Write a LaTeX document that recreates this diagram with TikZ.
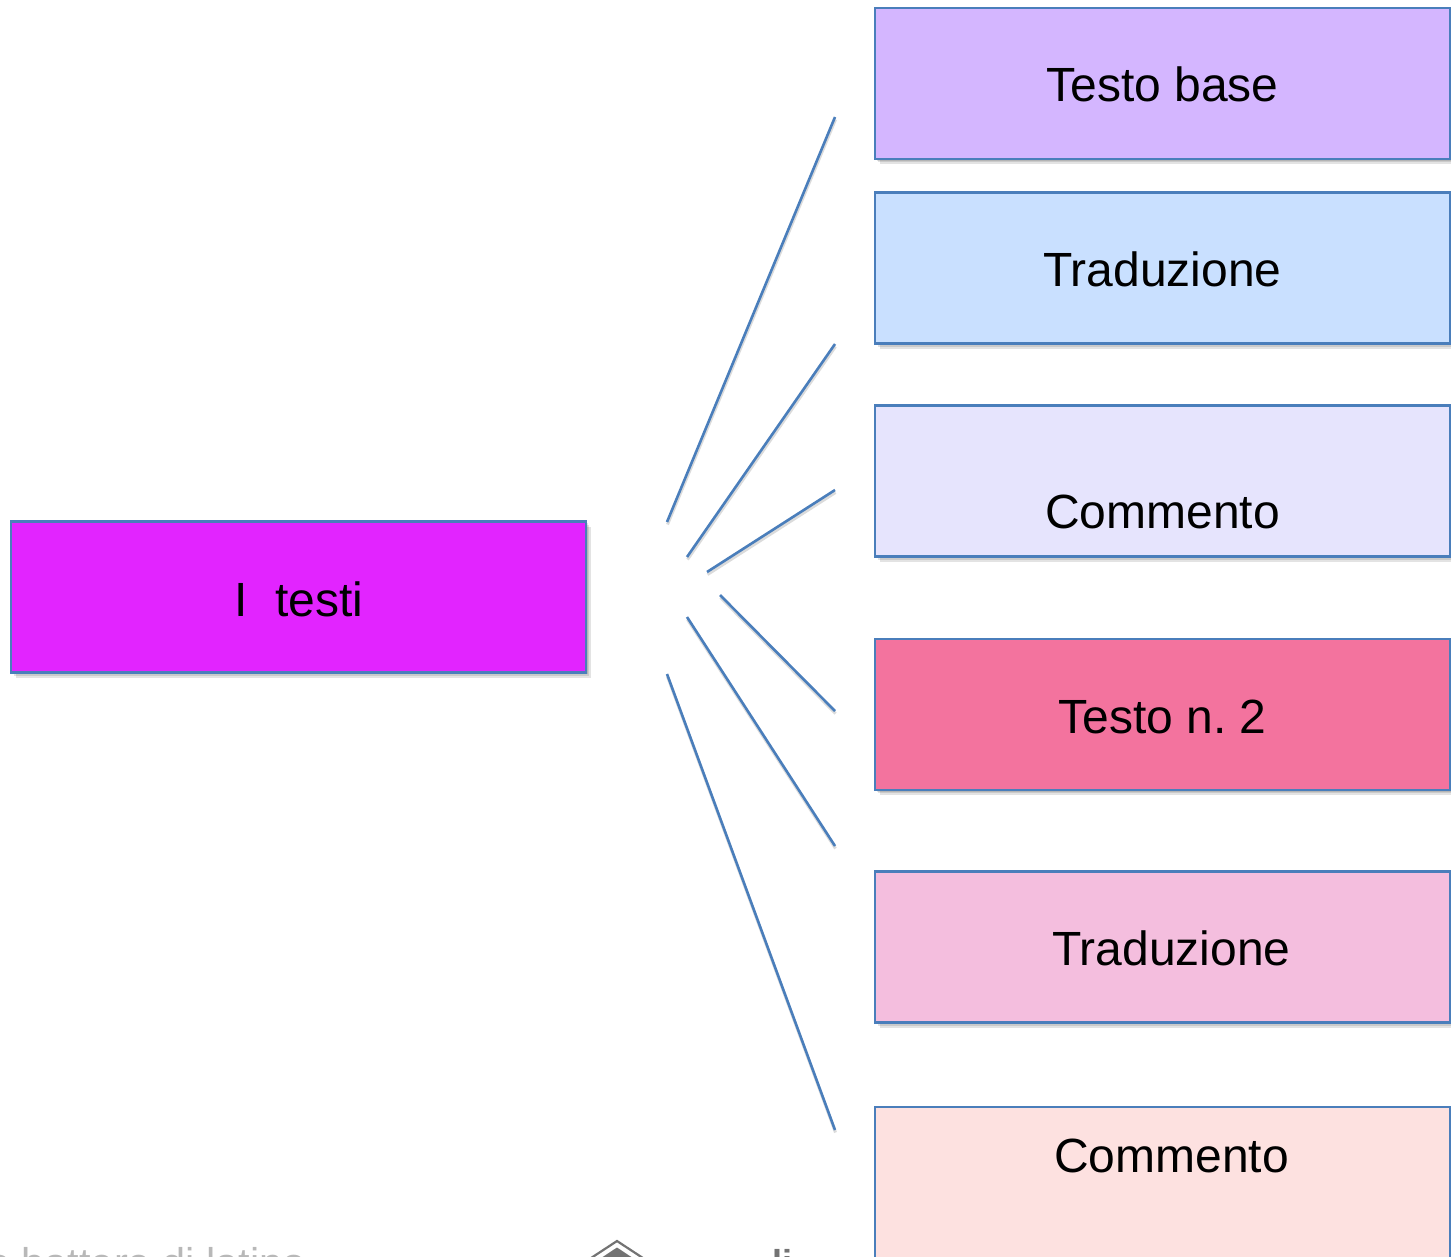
\documentclass[tikz,border=0pt]{standalone}
\usepackage{fontspec}
\setmainfont{Liberation Sans}
\usetikzlibrary{shadows}
\frenchspacing
\begin{document}
\begin{tikzpicture}[x=1pt,y=-1pt]
  \tikzset{
    softshadow/.style={
      drop shadow={shadow xshift=#1, shadow yshift=-#1, fill=black, opacity=0.11}
    },
    textbox/.style={
      draw=boxline,
      line width=2.4pt,
      minimum height=151pt,
      minimum width=575pt,
      inner sep=0pt,
      softshadow=1.5pt,
      softshadow=3pt,
      softshadow=5pt
    },
    boxtext/.style={
      font=\fontsize{48}{48}\selectfont,
      text=black,
      inner sep=0pt
    },
    ray/.style={
      draw=boxline,
      line width=2.6pt,
      preaction={draw=black!14, line width=3pt, transform canvas={xshift=0.5pt, yshift=-2.5pt}}
    },
    footer/.style={
      font=\fontsize{41.5}{41.5}\selectfont,
      inner sep=0pt,
      anchor=base west
    }
  }
  \definecolor{boxline}{HTML}{4A7EBB}
  \useasboundingbox (0,0) rectangle (1451,1256);

  \node[textbox, fill={rgb,255:red,226;green,36;blue,255}] (root) at (298.5,597) {};
  \node[textbox, fill={rgb,255:red,212;green,182;blue,255}] (base) at (1162.5,83.5) {};
  \node[textbox, fill={rgb,255:red,201;green,224;blue,255}] (trad) at (1162.5,268) {};
  \node[textbox, fill={rgb,255:red,230;green,228;blue,253}] (comm) at (1162.5,481) {};
  \node[textbox, fill={rgb,255:red,243;green,115;blue,158}] (second) at (1162.5,714.5) {};
  \node[textbox, fill={rgb,255:red,244;green,190;blue,222}] (tradtwo) at (1162.5,947) {};
  \node[textbox, minimum height=180pt, fill={rgb,255:red,253;green,225;blue,224}] (commtwo) at (1162.5,1197) {};

  \node[boxtext] (lroot) at (299,599) {I\hspace{0.3em} testi};
  \node[boxtext] (lbase) at (1162.5,84.5) {Testo base};
  \node[boxtext] (ltrad) at (1162.5,269) {Traduzione};
  \node[boxtext] (lcomm) at (1162.5,512) {Commento};
  \node[boxtext] (lsecond) at (1162.5,717) {Testo n. 2};
  \node[boxtext] (ltradtwo) at (1171.5,948) {Traduzione};
  \node[boxtext] (lcommtwo) at (1171.5,1156) {Commento};

  \coordinate (s1) at (667,522);
  \coordinate (e1) at (835,117);
  \coordinate (s2) at (687,557);
  \coordinate (e2) at (835,344);
  \coordinate (s3) at (707,572);
  \coordinate (e3) at (835,490);
  \coordinate (s4) at (720,595);
  \coordinate (e4) at (835,711);
  \coordinate (s5) at (687,617);
  \coordinate (e5) at (835,846);
  \coordinate (s6) at (667,674);
  \coordinate (e6) at (835,1130);

  \draw[ray] (s1) -- (e1);
  \draw[ray] (s2) -- (e2);
  \draw[ray] (s3) -- (e3);
  \draw[ray] (s4) -- (e4);
  \draw[ray] (s5) -- (e5);
  \draw[ray] (s6) -- (e6);

  \node[footer, text=black!28] (foot) at (-13,1277) {o battere di latino};
  \coordinate (roof) at (617,1241);
  \draw[black!55, line width=2.2pt] (585,1262) -- (roof) -- (649,1262);
  \fill[black!55] (595,1262) -- (617,1247.5) -- (639,1262) -- cycle;
  \node[footer, text=black!55, font=\bfseries\fontsize{36}{36}\selectfont] (logo) at (772,1275) {li};
\end{tikzpicture}
\end{document}
